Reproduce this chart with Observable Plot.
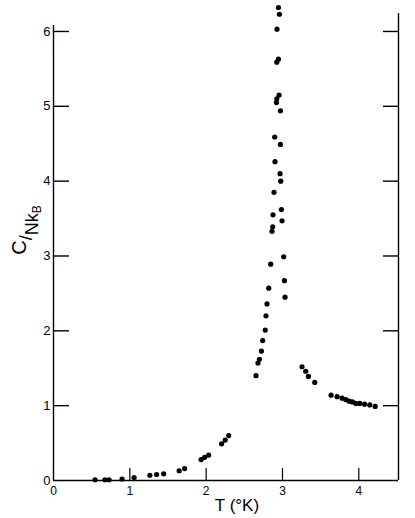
<!DOCTYPE html>
<html>
<head>
<meta charset="utf-8">
<script src="https://cdn.jsdelivr.net/npm/d3@7"></script>
<script src="https://cdn.jsdelivr.net/npm/@observablehq/plot@0.6"></script>
<style>
  html, body { margin: 0; padding: 0; background: #fff; }
  #chart svg { display: block; }
</style>
</head>
<body>
<div id="chart"></div>
<script>
// Temperature (°K) of each measured point
const temperature = [
  0.544, 0.673, 0.728, 0.898, 1.056, 1.263, 1.351, 1.443, 1.646, 1.718,
  1.934, 1.980, 2.033, 2.203, 2.249, 2.295,
  2.653, 2.679, 2.698, 2.724, 2.741, 2.774, 2.784, 2.797, 2.820, 2.846,
  2.863, 2.872, 2.876, 2.889, 2.902, 2.898, 2.921, 2.925, 2.955, 2.925,
  2.947, 2.928, 2.960, 2.947,
  2.973, 2.973, 2.968, 2.977, 2.986, 2.994, 3.016, 3.026, 3.033,
  3.256, 3.305, 3.340, 3.423, 3.637, 3.715, 3.781, 3.830, 3.873, 3.917,
  3.961, 4.013, 4.075, 4.144, 4.214
];
// Specific heat C/Nk_B of each measured point
const heat = [
  0.01, 0.01, 0.01, 0.02, 0.04, 0.07, 0.08, 0.09, 0.13, 0.16,
  0.28, 0.31, 0.34, 0.49, 0.54, 0.60,
  1.40, 1.57, 1.62, 1.73, 1.87, 2.01, 2.20, 2.36, 2.57, 2.89,
  3.33, 3.39, 3.55, 3.85, 4.26, 4.59, 5.05, 5.10, 5.15, 5.59,
  5.63, 6.03, 6.23, 6.32,
  4.94, 4.49, 4.10, 4.00, 3.62, 3.47, 2.99, 2.67, 2.45,
  1.52, 1.46, 1.39, 1.31, 1.14, 1.12, 1.10, 1.08, 1.06, 1.05,
  1.03, 1.03, 1.02, 1.01, 0.99
];
const xTickValues = [1, 2, 3, 4];
const xTickLabels = [0, 1, 2, 3, 4];
const yTickValues = [1, 2, 3, 4, 5, 6];
const yTickLabels = [0, 1, 2, 3, 4, 5, 6];
const xDomain = [0, 4.52];
const yDomain = [0, 6.24];
const leftAxisTop = 6.08;

const points = temperature.map((t, i) => ({t, c: heat[i]}));

const W = 415, H = 518;
const mL = 53, mR = 17, mT = 13, mB = 38;
const innerW = W - mL - mR, innerH = H - mT - mB;

const plot = Plot.plot({
  width: W,
  height: H,
  marginLeft: mL,
  marginRight: mR,
  marginTop: mT,
  marginBottom: mB,
  style: {fontFamily: "'Liberation Sans', Arial, sans-serif", color: "#000", background: "#fff"},
  x: {domain: xDomain, axis: null},
  y: {domain: yDomain, axis: null},
  marks: [
    Plot.ruleX([xDomain[0]], {y1: 0, y2: leftAxisTop, stroke: "#000", strokeWidth: 1.4}),
    Plot.ruleX([xDomain[1]], {y1: 0, y2: yDomain[1], stroke: "#000", strokeWidth: 1.4}),
    Plot.ruleY([0], {x1: xDomain[0], x2: xDomain[1], stroke: "#000", strokeWidth: 1.4}),
    Plot.tickY(yTickValues, {insetRight: innerW - 16, stroke: "#000", strokeWidth: 1.4}),
    Plot.tickY(yTickValues, {insetLeft: innerW - 15, stroke: "#000", strokeWidth: 1.4}),
    Plot.tickX(xTickValues, {insetTop: innerH - 12, stroke: "#000", strokeWidth: 1.2}),
    Plot.axisY(yTickLabels, {tickSize: 0, tickPadding: 3, fontSize: 13, label: null, tickFormat: d => String(d)}),
    Plot.axisX(xTickLabels, {tickSize: 0, tickPadding: 6, fontSize: 12, label: null, tickFormat: d => String(d)}),
    Plot.dot(points, {x: "t", y: "c", r: 2.6, fill: "#000", stroke: "none"})
  ]
});

const svg = d3.select(plot);
// x axis title
svg.append("text")
  .attr("x", 237).attr("y", 511)
  .attr("text-anchor", "middle")
  .attr("font-size", 17)
  .attr("font-family", "'Liberation Sans', Arial, sans-serif")
  .attr("fill", "#000")
  .text("T (°K)");
// y axis title C/Nk_B
const yl = svg.append("text")
  .attr("transform", "translate(38,230) rotate(-90)")
  .attr("text-anchor", "middle")
  .attr("font-size", 18)
  .attr("font-family", "'Liberation Sans', Arial, sans-serif")
  .attr("fill", "#000");
yl.append("tspan").attr("font-size", 20).attr("dy", -12).text("C");
yl.append("tspan").attr("dy", 6).text("/");
yl.append("tspan").attr("dy", 6).text("Nk");
yl.append("tspan").attr("font-size", 12).attr("dy", 3).text("B");

document.getElementById("chart").appendChild(plot);
</script>
</body>
</html>
